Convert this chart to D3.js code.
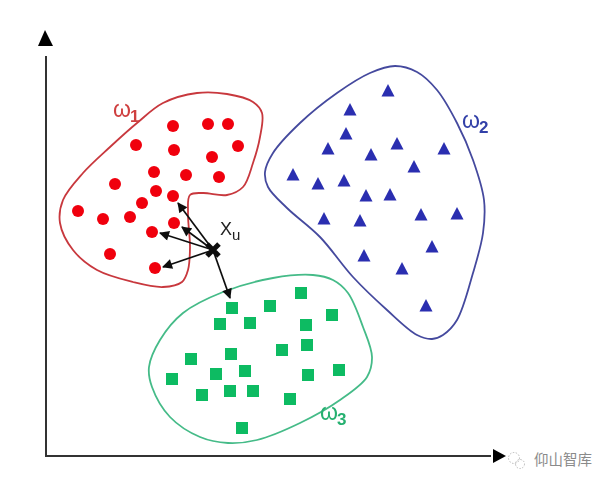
<!DOCTYPE html>
<html><head><meta charset="utf-8">
<script src="https://cdn.jsdelivr.net/npm/d3@7"></script>
<style>html,body{margin:0;padding:0;background:#fff}svg{display:block}text{font-family:"Liberation Sans",sans-serif}</style>
</head><body><svg id="c" width="612" height="486"></svg>
<script>
const redPoints=[[127,330],[162,332],[182,332],[90,311],[128,306],[192,310],[166,299],[108,284],[140,281],[173,279],[69,272],[110,265],[127,260],[96,253],[32,245],[57,237],[84,239],[128,233],[106,224],[64,202],[109,188]];
const bluePoints=[[342,365],[304,346],[300,322],[282,307],[325,301],[351,312],[398,307],[368,289],[247,281],[272,272],[298,275],[320,260],[344,261],[278,237],[314,235],[375,241],[411,242],[386,209],[318,200],[356,187],[380,150]];
const greenPoints=[[255,163],[224,150],[186,148],[286,141],[174,132],[204,133],[260,131],[261,111],[236,106],[185,102],[145,97],[293,86],[170,82],[199,85],[262,81],[126,77],[156,61],[184,65],[207,65],[244,57],[196,28]];
const redBoundary=[[151,363],[181,362],[207,354],[216,343],[214,319],[207,293],[197,269],[181,261],[157,263],[144,261],[142,243],[144,209],[142,186],[136,174],[117,169],[87,174],[51,186],[27,206],[14,233],[17,256],[37,283],[64,309],[91,333],[117,353]];
const blueBoundary=[[349,390],[371,384],[391,366],[411,333],[427,296],[438,256],[437,223],[427,183],[411,136],[397,121],[386,117],[371,121],[341,146],[307,179],[274,219],[241,248],[222,269],[219,284],[227,303],[254,333],[291,363],[324,383]];
const greenBoundary=[[267,181],[287,176],[302,163],[317,129],[326,99],[321,79],[294,56],[254,33],[211,16],[182,13],[154,19],[124,39],[106,69],[103,89],[114,116],[137,143],[177,164],[227,178]];
const query=[167,206];
const neighbours=[[132,253],[136,229],[114,223],[117,189],[184,158]];
const classLabels=[{base:"ω",sub:"1",at:[67,339],color:"#cf3f3f"},{base:"ω",sub:"2",at:[416,328],color:"#3340a8"},{base:"ω",sub:"3",at:[274,36],color:"#25b070"}];
const watermark="仰山智库";

const W=612,H=486;
const x=d3.scaleLinear().domain([0,451]).range([46,497]);
const y=d3.scaleLinear().domain([0,418]).range([456,38]);
const svg=d3.select("#c");
const defs=svg.append("defs");
defs.append("marker").attr("id","ah").attr("viewBox","0 0 10 10").attr("refX",9).attr("refY",5)
 .attr("markerWidth",13).attr("markerHeight",10).attr("markerUnits","userSpaceOnUse").attr("orient","auto")
 .append("path").attr("d","M0,0L10,5L0,10Z").attr("fill","#111");
defs.append("filter").attr("id","soft").append("feGaussianBlur").attr("stdDeviation",0.4);

const root=svg.append("g").attr("filter","url(#soft)");
const blob=d3.line().x(d=>x(d[0])).y(d=>y(d[1])).curve(d3.curveCatmullRomClosed.alpha(0.5));
[[redBoundary,"#c8383e"],[blueBoundary,"#454a9e"],[greenBoundary,"#45bb88"]].forEach(([b,c])=>{
 root.append("path").attr("d",blob(b)).attr("fill","none").attr("stroke",c).attr("stroke-width",1.8);
});

// axes
const ax=root.append("g");
ax.append("line").attr("x1",x(0)).attr("x2",x(0)).attr("y1",y(0)).attr("y2",y(400)).attr("stroke","#333").attr("stroke-width",2);
ax.append("line").attr("x1",x(0)-1).attr("x2",x(445)).attr("y1",y(0)).attr("y2",y(0)).attr("stroke","#333").attr("stroke-width",2);
const tri=(p)=>ax.append("path").attr("d",d3.line()(p)+"Z").attr("fill","#000");
tri([[x(0)-8,y(410)],[x(0)-1,y(426)],[x(0)+7,y(410)]]);
tri([[x(447),y(0)-7],[x(460),y(0)],[x(447),y(0)+7]]);

// marks
root.selectAll("circle.r").data(redPoints).join("circle").attr("class","r")
 .attr("cx",d=>x(d[0])).attr("cy",d=>y(d[1])).attr("r",6).attr("fill","#f0000f");
root.selectAll("path.b").data(bluePoints).join("path").attr("class","b")
 .attr("transform",d=>`translate(${x(d[0])},${y(d[1])})`).attr("d","M0,-7L6.5,5.5L-6.5,5.5Z").attr("fill","#2a2fb0");
root.selectAll("rect.g").data(greenPoints).join("rect").attr("class","g")
 .attr("x",d=>x(d[0])-6).attr("y",d=>y(d[1])-6).attr("width",12).attr("height",12).attr("fill","#0fbb62");

// arrows
root.selectAll("line.n").data(neighbours).join("line").attr("class","n")
 .attr("x1",x(query[0])).attr("y1",y(query[1])).attr("x2",d=>x(d[0])).attr("y2",d=>y(d[1]))
 .attr("stroke","#111").attr("stroke-width",1.7).attr("marker-end","url(#ah)");
root.append("path").attr("transform",`translate(${x(query[0])},${y(query[1])})`)
 .attr("d","M-6,-6L6,6M-6,6L6,-6").attr("stroke","#111").attr("stroke-width",5);

const xu=root.append("text").attr("x",x(query[0])+7).attr("y",y(query[1])-15).attr("font-size",18).attr("fill","#222").text("X");
xu.append("tspan").attr("font-size",15).attr("dy",5).text("u");

classLabels.forEach(l=>{
 const t=root.append("text").attr("x",x(l.at[0])).attr("y",y(l.at[1])).attr("font-size",23).attr("fill",l.color).text(l.base);
 t.append("tspan").attr("font-size",17).attr("font-weight","bold").attr("dx",-1).attr("dy",5).text(l.sub);
});

// watermark
const wm=svg.append("g").attr("fill","none").attr("stroke","#aaa").attr("stroke-width",0.8).attr("stroke-dasharray","1.5 1.5");
wm.append("circle").attr("cx",514).attr("cy",458).attr("r",5.5);
wm.append("circle").attr("cx",520).attr("cy",464).attr("r",4.5);
svg.append("text").attr("x",534).attr("y",465).attr("font-size",14.5).attr("fill","#8a8a8a")
 .style("font-family","'Noto Sans CJK SC'").text(watermark);
</script></body></html>
